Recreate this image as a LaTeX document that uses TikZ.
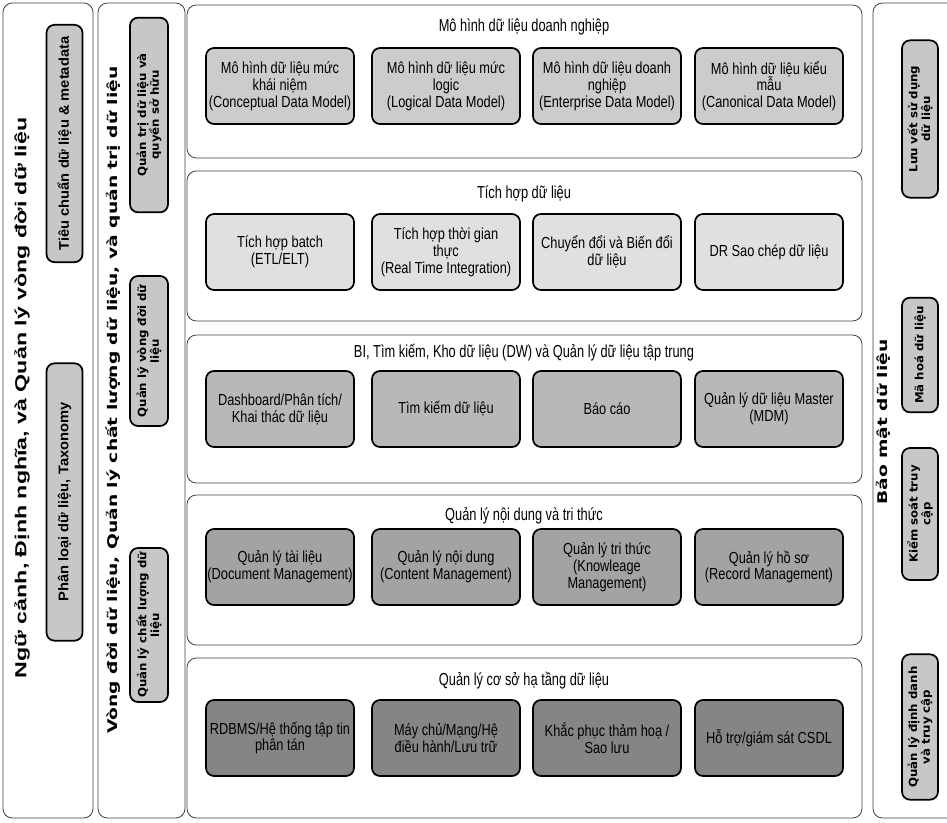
\documentclass[tikz,border=0pt]{standalone}
\usepackage{fontspec}
\setmainfont{Liberation Sans}
\newfontfamily\narrowf[FakeStretch=0.8]{Liberation Sans}
\newfontfamily\titlef[FakeStretch=0.74]{Liberation Sans}
\newfontfamily\colf[FakeStretch=1.05]{DejaVu Sans}
\newfontfamily\coltf[FakeStretch=1.4]{DejaVu Sans}
\newfontfamily\colaf[FakeStretch=1.45]{Liberation Sans}
\newfontfamily\colbf[FakeStretch=1.05]{Liberation Sans}
\usetikzlibrary{fit}
\begin{document}
\begin{tikzpicture}[x=0.75pt,y=-0.75pt,
  outer/.style={draw=black!75, line width=0.6pt, rounded corners=7pt, inner sep=0pt},
  ibox/.style={draw=black, line width=1.3pt, rounded corners=6pt, align=center, inner sep=1pt,
    minimum width=111pt, minimum height=57pt, font=\narrowf\fontsize{12}{12.6}\selectfont},
  ptitle/.style={font=\titlef\fontsize{13}{14}\selectfont, inner sep=0pt},
  cbox/.style={draw=black, line width=1.3pt, rounded corners=6pt, align=center, inner sep=1pt,
    rotate=90, fill=black!22},
  c1text/.style={font=\colbf\bfseries\fontsize{10.5}{12}\selectfont},
  c2text/.style={font=\colf\bfseries\fontsize{8.4}{9.6}\selectfont},
  ctitle1/.style={rotate=90, inner sep=0pt, font=\colaf\bfseries\fontsize{12}{14}\selectfont},
  ctitle2/.style={rotate=90, inner sep=0pt, font=\coltf\bfseries\fontsize{10}{12}\selectfont},
  f1/.style={fill=black!20}, f2/.style={fill=black!12}, f3/.style={fill=black!28},
  f4/.style={fill=black!36}, f5/.style={fill=black!48}]
\useasboundingbox (0,0) rectangle (947,822);
\fill[white] (0,0) rectangle (947,822);

% ---- left column 1
\node[outer, fit={(3,3) (93,818)}] (C1) {};
\node[ctitle1] (C1t) at (22,398) {Ngữ cảnh, Định nghĩa, và Quản lý vòng đời dữ liệu};
\node[cbox, c1text, minimum width=178pt, minimum height=27pt] (C1a) at (64.5,143.5) {Tiêu chuẩn dữ liệu \& metadata};
\node[cbox, c1text, minimum width=208pt, minimum height=27pt] (C1b) at (64.5,502) {Phân loại dữ liệu, Taxonomy};

% ---- left column 2
\node[outer, fit={(98,3) (185,818)}] (C2) {};
\node[ctitle2] (C2t) at (113,400) {Vòng đời dữ liệu, Quản lý chất lượng dữ liệu, và quản trị dữ liệu};
\node[cbox, c2text, minimum width=146pt, minimum height=28.5pt] (C2a) at (149,115) {Quản trị dữ liệu và\\quyền sở hữu};
\node[cbox, c2text, minimum width=112.5pt, minimum height=28.5pt] (C2b) at (149,351) {Quản lý vòng đời dữ\\liệu};
\node[cbox, c2text, minimum width=115.5pt, minimum height=28.5pt] (C2c) at (149,625) {Quản lý chất lượng dữ\\liệu};

% ---- right column
\node[outer, fit={(873,3) (960,818)}] (C3) {};
\node[ctitle2] (C3t) at (883,422) {Bảo mật dữ liệu};
\node[cbox, c2text, minimum width=118pt, minimum height=27pt] (C3a) at (920,119) {Lưu vết sử dụng\\dữ liệu};
\node[cbox, c2text, minimum width=86pt, minimum height=27pt] (C3b) at (920,355) {Mã hoá dữ liệu};
\node[cbox, c2text, minimum width=99pt, minimum height=27pt] (C3c) at (920,514) {Kiểm soát truy\\cập};
\node[cbox, c2text, minimum width=109pt, minimum height=27pt] (C3d) at (920,727) {Quản lý định danh\\và truy cập};

% ---- panel 1
\node[outer, fit={(187,5) (862,158)}] (P1) {};
\node[ptitle] (P1t) at (524,27) {Mô hình dữ liệu doanh nghiệp};
\node[ibox,f1] (P1a) at (280,86) {Mô hình dữ liệu mức\\khái niệm\\(Conceptual Data Model)};
\node[ibox,f1] (P1b) at (446,86) {Mô hình dữ liệu mức\\logic\\(Logical Data Model)};
\node[ibox,f1] (P1c) at (607,86) {Mô hình dữ liệu doanh\\nghiệp\\(Enterprise Data Model)};
\node[ibox,f1] (P1d) at (769,86) {Mô hình dữ liệu kiểu\\mẫu\\(Canonical Data Model)};

% ---- panel 2
\node[outer, fit={(187,171) (862,321)}] (P2) {};
\node[ptitle] (P2t) at (524,194) {Tích hợp dữ liệu};
\node[ibox,f2] (P2a) at (280,252) {Tích hợp batch\\(ETL/ELT)};
\node[ibox,f2] (P2b) at (446,252) {Tích hợp thời gian\\thực\\(Real Time Integration)};
\node[ibox,f2] (P2c) at (607,252) {Chuyển đổi và Biến đổi\\dữ liệu};
\node[ibox,f2] (P2d) at (769,252) {DR Sao chép dữ liệu};

% ---- panel 3
\node[outer, fit={(187,335) (862,483)}] (P3) {};
\node[ptitle] (P3t) at (524,353) {BI, Tìm kiếm, Kho dữ liệu (DW) và Quản lý dữ liệu tập trung};
\node[ibox,f3] (P3a) at (280,409) {Dashboard/Phân tích/\\Khai thác dữ liệu};
\node[ibox,f3] (P3b) at (446,409) {Tìm kiếm dữ liệu};
\node[ibox,f3] (P3c) at (607,409) {Báo cáo};
\node[ibox,f3] (P3d) at (769,409) {Quản lý dữ liệu Master\\(MDM)};

% ---- panel 4
\node[outer, fit={(187,495) (862,645)}] (P4) {};
\node[ptitle] (P4t) at (524,516) {Quản lý nội dung và tri thức};
\node[ibox,f4] (P4a) at (280,567) {Quản lý tài liệu\\(Document Management)};
\node[ibox,f4] (P4b) at (446,567) {Quản lý nội dung\\(Content Management)};
\node[ibox,f4] (P4c) at (607,567) {Quản lý tri thức\\(Knowleage\\Management)};
\node[ibox,f4] (P4d) at (769,567) {Quản lý hồ sơ\\(Record Management)};

% ---- panel 5
\node[outer, fit={(187,658) (862,818)}] (P5) {};
\node[ptitle] (P5t) at (524,681) {Quản lý cơ sở hạ tầng dữ liệu};
\node[ibox,f5] (P5a) at (280,738) {RDBMS/Hệ thống tập tin\\phân tán};
\node[ibox,f5] (P5b) at (446,738) {Máy chủ/Mạng/Hệ\\điều hành/Lưu trữ};
\node[ibox,f5] (P5c) at (607,738) {Khắc phục thảm hoạ /\\Sao lưu};
\node[ibox,f5] (P5d) at (769,738) {Hỗ trợ/giám sát CSDL};
\end{tikzpicture}
\end{document}
